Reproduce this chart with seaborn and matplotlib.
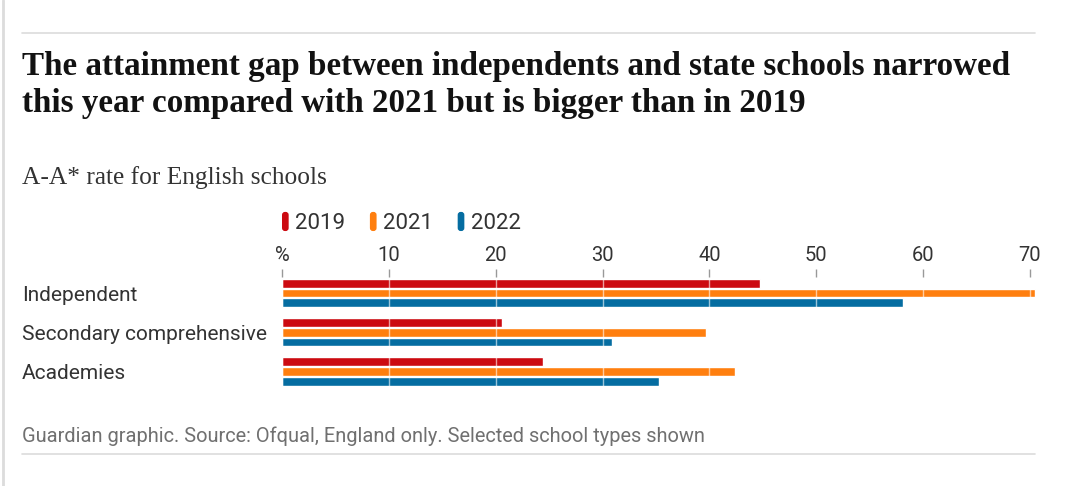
import matplotlib
matplotlib.use("Agg")
import matplotlib.pyplot as plt
import seaborn as sns
import pandas as pd
from matplotlib.lines import Line2D
from matplotlib.patches import FancyBboxPatch, Rectangle
from matplotlib.legend_handler import HandlerPatch

# ---- data ----
categories = ["Independent", "Secondary comprehensive", "Academies"]
years = ["2019", "2021", "2022"]
rate_2019 = [44.7, 20.6, 24.4]
rate_2021 = [70.5, 39.7, 42.4]
rate_2022 = [58.1, 30.9, 35.3]
xtick_values = [0, 10, 20, 30, 40, 50, 60, 70]
xtick_labels = ["%", "10", "20", "30", "40", "50", "60", "70"]
colors = ["#cc0a11", "#ff7f0f", "#056da1"]

title_lines = ["The attainment gap between independents and state schools narrowed",
               "this year compared with 2021 but is bigger than in 2019"]
subtitle = "A-A* rate for English schools"
footer = "Guardian graphic. Source: Ofqual, England only. Selected school types shown"

rows = []
for yr, vals in zip(years, [rate_2019, rate_2021, rate_2022]):
    for cat, v in zip(categories, vals):
        rows.append({"school": cat, "year": yr, "rate": v})
df = pd.DataFrame(rows)

sns.set_theme(style="white")
SANS = ["Roboto", "DejaVu Sans"]
SERIF = ["Liberation Serif", "DejaVu Serif"]
plt.rcParams["font.family"] = SANS

W, H = 1080, 486
fig = plt.figure(figsize=(W / 100, H / 100), dpi=100)
fig.patch.set_facecolor("white")

x0, x1 = 282.4, 1036.0
ytop, ybot = 277.0, 386.0
ax = fig.add_axes([x0 / W, 1 - ybot / H, (x1 - x0) / W, (ybot - ytop) / H])

sns.barplot(data=df, y="school", x="rate", hue="year", orient="h",
            palette=colors, saturation=1, width=0.76, gap=0.1,
            order=categories, hue_order=years, ax=ax)

ax.set_xlim(0, 70.6)
ax.set_ylim(2.38, -0.41)
for s in ax.spines.values():
    s.set_visible(False)
ax.set_xlabel("")
ax.set_ylabel("")

ax.xaxis.tick_top()
ax.set_xticks(xtick_values, xtick_labels)
ax.tick_params(axis="x", top=True, bottom=False, labeltop=True, labelbottom=False,
               length=6, width=1, color="#999999", pad=2.5, labelsize=14.5,
               labelcolor="#333333", direction="out")
ax.tick_params(axis="y", left=False, length=0, pad=(x0 - 22) * 0.72,
               labelsize=15, labelcolor="#333333")
for lab in ax.get_yticklabels():
    lab.set_ha("left")

ax.grid(axis="x", color="white", alpha=0.6, linewidth=1)
ax.grid(axis="y", visible=False)
ax.set_axisbelow(False)

# legend with pill markers
handles, labels = ax.get_legend_handles_labels()
if ax.get_legend() is not None:
    ax.get_legend().remove()


class Pill(HandlerPatch):
    def create_artists(self, legend, orig_handle, xdescent, ydescent, width,
                       height, fontsize, trans):
        p = FancyBboxPatch((-xdescent, -ydescent), width, height,
                           boxstyle="round,pad=0,rounding_size=%f" % (width * 0.45),
                           facecolor=orig_handle.get_facecolor(),
                           edgecolor="none", transform=trans)
        return [p]


leg = fig.legend(handles, labels, loc="center left",
                 bbox_to_anchor=(282 / W, 1 - 223 / H), ncol=3, frameon=False,
                 fontsize=16, handlelength=0.3, handleheight=0.95,
                 handletextpad=0.3, columnspacing=1.1, borderpad=0,
                 borderaxespad=0, handler_map={Rectangle: Pill()})
for t in leg.get_texts():
    t.set_color("#333333")

# texts
t1 = fig.text(22 / W, 1 - 75 / H, title_lines[0], family=SERIF, weight="bold",
              fontsize=22, color="#121212", va="baseline", ha="left")
t2 = fig.text(22 / W, 1 - 112 / H, title_lines[1], family=SERIF, weight="bold",
              fontsize=22, color="#121212", va="baseline", ha="left")
st = fig.text(22 / W, 1 - 184 / H, subtitle, family=SERIF, fontsize=15,
              color="#333333", va="baseline", ha="left")
ft = fig.text(22 / W, 1 - 442 / H, footer, family=SANS, fontsize=12,
              color="#707070", va="baseline", ha="left")

# rules
fig.add_artist(Line2D([22 / W, 1035 / W], [1 - 33 / H, 1 - 33 / H],
                      color="#dcdcdc", lw=1.2))
fig.add_artist(Line2D([22 / W, 1035 / W], [1 - 454 / H, 1 - 454 / H],
                      color="#dcdcdc", lw=1.2))
fig.add_artist(Line2D([3 / W, 3 / W], [0, 1], color="#dcdcdc", lw=2))

# fit text widths to reference
fig.canvas.draw()
r = fig.canvas.get_renderer()


def fit(t, target):
    w = t.get_window_extent(r).width
    t.set_fontsize(t.get_fontsize() * target / w)


fit(t1, 993)
t2.set_fontsize(t1.get_fontsize())
fit(st, 305)
fit(ft, 680)

fig.savefig("out.png", dpi=100, facecolor="white")
